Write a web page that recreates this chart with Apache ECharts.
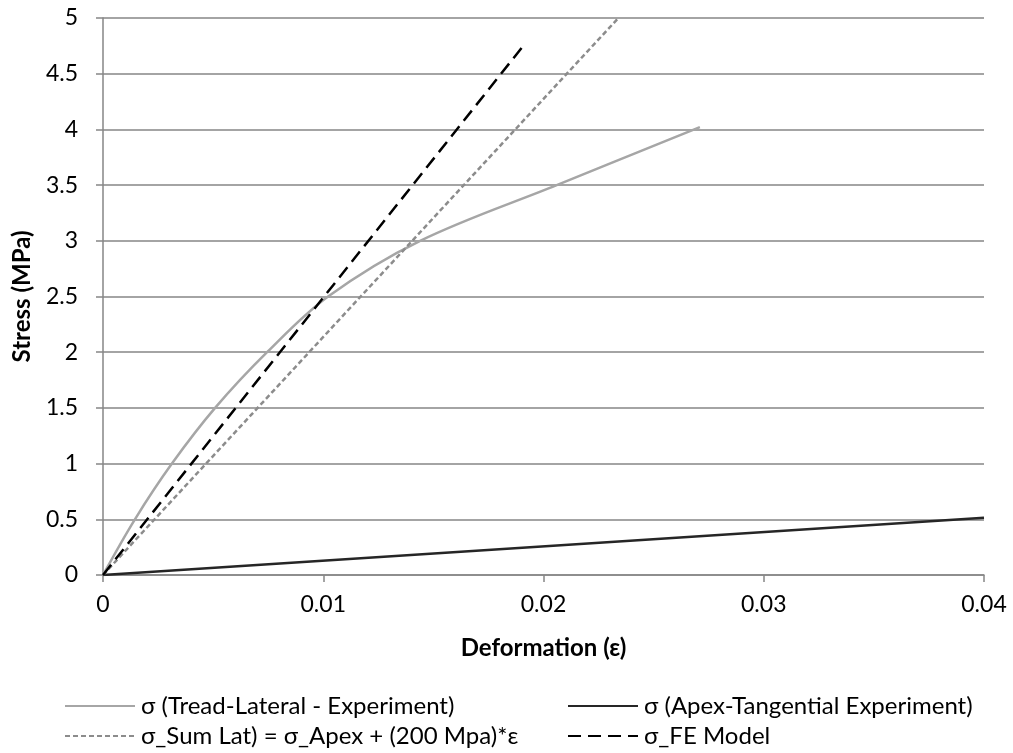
<!DOCTYPE html>
<html>
<head>
<meta charset="utf-8">
<script src="https://cdn.jsdelivr.net/npm/echarts@6/dist/echarts.min.js"></script>
<style>html,body{margin:0;padding:0;background:#fff}#c{width:1013px;height:753px}</style>
</head>
<body>
<div id="c"></div>
<script>
var seriesNames = [
  'σ (Tread-Lateral - Experiment)',
  'σ (Apex-Tangential Experiment)',
  'σ_Sum Lat) = σ_Apex + (200 Mpa)*ε',
  'σ_FE Model'
];
var treadLateral = [[0,0],[0.00145,0.5],[0.00313,1.0],[0.00509,1.5],[0.00745,2.0],[0.01022,2.5],[0.0144,3.0],[0.0206,3.5],[0.0271,4.02]];
var apexTangential = [[0,0],[0.04,0.515]];
var sumLat = [[0,0],[0.0234,5.0]];
var feModel = [[0,0],[0.0192,4.78]];
var xTicks = [0, 0.01, 0.02, 0.03, 0.04];
var yTicks = [0, 0.5, 1, 1.5, 2, 2.5, 3, 3.5, 4, 4.5, 5];

var FONT = 'Lato, "Open Sans", sans-serif';
var chart = echarts.init(document.getElementById('c'), null, {renderer: 'canvas'});
function leg(name, left, top) {
  return {
    data: [name], left: left, top: top, itemWidth: 70, itemHeight: 14, itemGap: 0,
    itemStyle: {opacity: 0, borderWidth: 0},
    textStyle: {fontFamily: FONT, fontSize: 24, color: '#000', padding: [0,0,0,1]},
    padding: 0
  };
}
chart.setOption({
  animation: false,
  backgroundColor: '#fff',
  textStyle: {fontFamily: FONT},
  grid: {left: 103, right: 29, top: 18, bottom: 178, containLabel: false},
  legend: [
    leg(seriesNames[0], 64, 694),
    leg(seriesNames[1], 567, 694),
    leg(seriesNames[2], 64, 724),
    leg(seriesNames[3], 567, 724)
  ],
  xAxis: {
    type: 'value', min: 0, max: 0.04, interval: 0.01,
    name: 'Deformation (ε)', nameLocation: 'middle', nameGap: 61,
    nameTextStyle: {fontFamily: FONT, fontSize: 24, fontWeight: 'bold', color: '#000'},
    axisLine: {show: true, lineStyle: {color: '#868686', width: 1.5}},
    axisTick: {show: true, length: 7, lineStyle: {color: '#868686', width: 1.5}},
    axisLabel: {fontFamily: FONT, fontSize: 23, color: '#000', margin: 18,
      formatter: function (v) { var r = +v.toFixed(2); return xTicks.indexOf(r) >= 0 ? String(r) : ''; }},
    splitLine: {show: false}
  },
  yAxis: {
    type: 'value', min: 0, max: 5, interval: 0.5,
    name: 'Stress (MPa)', nameLocation: 'middle', nameGap: 69, nameRotate: 90,
    nameTextStyle: {fontFamily: FONT, fontSize: 24, fontWeight: 'bold', color: '#000'},
    axisLine: {show: true, lineStyle: {color: '#868686', width: 1.5}},
    axisTick: {show: true, length: 7, lineStyle: {color: '#868686', width: 1.5}},
    axisLabel: {fontFamily: FONT, fontSize: 23, color: '#000', margin: 25,
      formatter: function (v) { var r = +v.toFixed(1); return yTicks.indexOf(r) >= 0 ? String(r) : ''; }},
    splitLine: {show: true, lineStyle: {color: '#868686', width: 1.5}}
  },
  series: [
    {name: seriesNames[0], type: 'line', data: treadLateral, smooth: 0.35, symbol: 'none',
      lineStyle: {color: '#A6A6A6', width: 2.5}, itemStyle: {color: '#A6A6A6'}, z: 3},
    {name: seriesNames[1], type: 'line', data: apexTangential, symbol: 'none',
      lineStyle: {color: '#262626', width: 2.5}, itemStyle: {color: '#262626'}, z: 3},
    {name: seriesNames[2], type: 'line', data: sumLat, symbol: 'none',
      lineStyle: {color: '#8C8C8C', width: 2.5, type: [5, 3]}, itemStyle: {color: '#8C8C8C'}, z: 4},
    {name: seriesNames[3], type: 'line', data: feModel, symbol: 'none',
      lineStyle: {color: '#000000', width: 2.5, type: [13, 7]}, itemStyle: {color: '#000000'}, z: 5}
  ]
});
</script>
</body>
</html>
